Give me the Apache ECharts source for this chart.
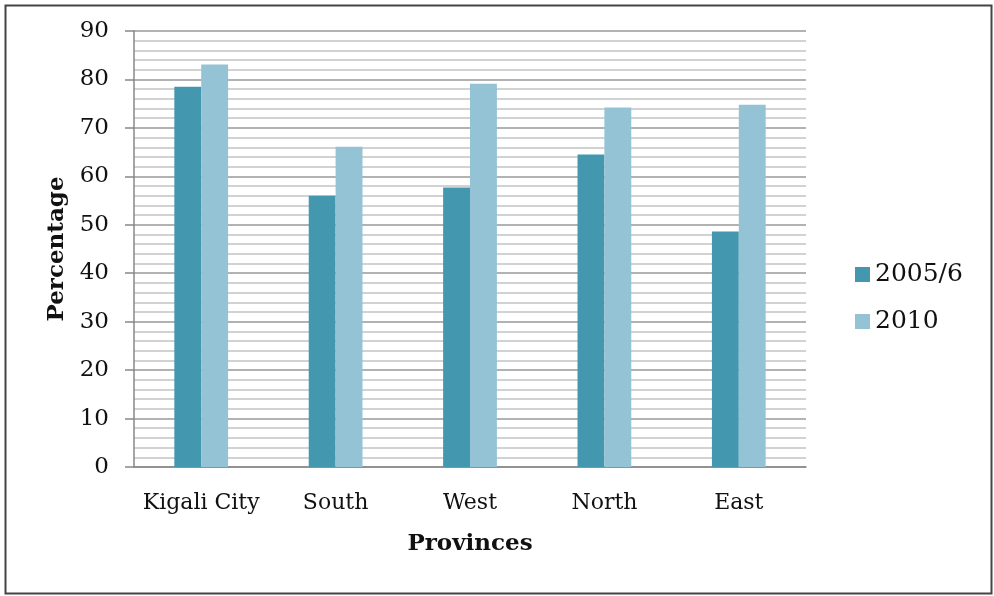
<!DOCTYPE html>
<html><head><meta charset="utf-8">
<script src="https://cdn.jsdelivr.net/npm/echarts@6/dist/echarts.min.js"></script>
<style>html,body{margin:0;padding:0;background:#fff}#c{width:994px;height:596px}</style>
</head><body><div id="c"></div>
<script>
const categories = ["Kigali City", "South", "West", "North", "East"];
const series2005 = [78.5, 56.0, 57.7, 64.5, 48.6];
const series2010 = [83.1, 66.1, 79.1, 74.2, 74.8];
const seriesNames = ["2005/6", "2010"];
const yTicks = [0, 10, 20, 30, 40, 50, 60, 70, 80, 90];

const FONT = "'DejaVu Serif', 'Liberation Serif', serif";
const chart = echarts.init(document.getElementById('c'));
chart.setOption({
  animation: false,
  backgroundColor: '#fff',
  graphic: [{
    type: 'rect', left: 3, top: 3, shape: {width: 986, height: 588},
    style: {fill: 'none', stroke: '#444', lineWidth: 2}, z: 100
  }],
  grid: {left: 134, right: 188, top: 31, bottom: 129},
  legend: {
    orient: 'vertical', left: 850, top: 257, itemGap: 22,
    itemWidth: 15, itemHeight: 15, icon: 'rect', itemStyle: {borderWidth: 0},
    textStyle: {fontFamily: FONT, fontSize: 25, color: '#111'},
    data: seriesNames
  },
  xAxis: {
    type: 'category', data: categories,
    axisLine: {lineStyle: {color: '#888', width: 1.5}},
    axisTick: {show: false},
    axisLabel: {fontFamily: FONT, fontSize: 22, color: '#111', margin: 25, interval: 0},
    name: 'Provinces', nameLocation: 'middle', nameGap: 66,
    nameTextStyle: {fontFamily: FONT, fontSize: 23, fontWeight: 'bold', color: '#111'}
  },
  yAxis: {
    type: 'value', min: yTicks[0], max: yTicks[yTicks.length - 1], interval: 10,
    axisLine: {show: true, lineStyle: {color: '#888', width: 1.5}},
    axisTick: {show: true, length: 9, lineStyle: {color: '#888', width: 1.5}},
    axisLabel: {fontFamily: FONT, fontSize: 23, color: '#111', margin: 25},
    splitLine: {lineStyle: {color: '#999', width: 1.5}},
    minorTick: {show: false, splitNumber: 5},
    minorSplitLine: {show: true, lineStyle: {color: '#c4c4c4', width: 1.5}},
    name: 'Percentage', nameLocation: 'middle', nameGap: 64, nameRotate: 90,
    nameTextStyle: {fontFamily: FONT, fontSize: 23, fontWeight: 'bold', color: '#111'}
  },
  series: [
    {name: seriesNames[0], type: 'bar', data: series2005, barGap: '0%', barCategoryGap: '60%',
     itemStyle: {color: '#4398B0'}},
    {name: seriesNames[1], type: 'bar', data: series2010, barGap: '0%', barCategoryGap: '60%',
     itemStyle: {color: '#93C3D4'}}
  ]
});
</script></body></html>
